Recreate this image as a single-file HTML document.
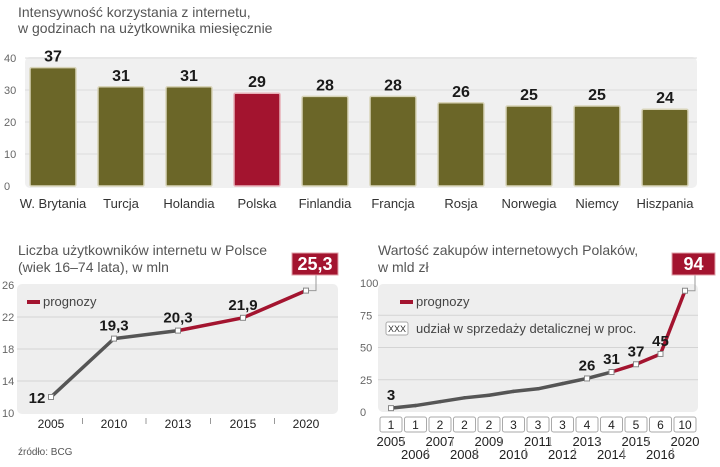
<!DOCTYPE html>
<html><head><meta charset="utf-8"><style>
body{margin:0;background:#fff;width:720px;height:462px;overflow:hidden;font-family:"Liberation Sans",sans-serif}
svg text{font-family:"Liberation Sans",sans-serif}
.v{font-family:"Liberation Sans Narrow","Liberation Sans",sans-serif;font-weight:bold;fill:#1a1a1a}
</style></head><body>
<svg id="s" width="720" height="462">
<text x="18" y="17" font-size="14" fill="#555">Intensywność korzystania z internetu,</text>
<text x="18" y="33" font-size="14" fill="#555">w godzinach na użytkownika miesięcznie</text>
<rect x="25" y="57" width="672" height="131" rx="5" fill="#f0f0f0"/>
<g id="topg"></g>
<text x="18" y="255" font-size="14" fill="#555">Liczba użytkowników internetu w Polsce</text>
<text x="18" y="272" font-size="14" fill="#555">(wiek 16–74 lata), w mln</text>
<rect x="17" y="284" width="321" height="130" rx="5" fill="#eeeeee"/>
<rect x="27" y="300" width="13" height="4" fill="#a3142f"/>
<text x="43" y="306" font-size="13" fill="#444">prognozy</text>
<g id="bl"></g>
<text x="18" y="455" font-size="10" fill="#555">źródło: BCG</text>
<text x="378" y="255" font-size="14" fill="#555">Wartość zakupów internetowych Polaków,</text>
<text x="378" y="272" font-size="14" fill="#555">w mld zł</text>
<rect x="378" y="284" width="320" height="128" rx="5" fill="#eeeeee"/>
<g id="br"></g>
<rect x="400" y="300" width="13" height="4" fill="#a3142f"/>
<text x="416" y="306" font-size="13" fill="#444">prognozy</text>
<rect x="386" y="322" width="22" height="13" rx="2" fill="#fff" stroke="#aaa"/>
<text x="397" y="332" font-size="9" text-anchor="middle" fill="#333">XXX</text>
<text x="416" y="333" font-size="13" fill="#444">udział w sprzedaży detalicznej w proc.</text>
</svg>
<script>
const countries=["W. Brytania","Turcja","Holandia","Polska","Finlandia","Francja","Rosja","Norwegia","Niemcy","Hiszpania"];
const hours=[37,31,31,29,28,28,26,25,25,24];
const topTicks=[0,10,20,30,40];
const usersYears=["2005","2010","2013","2015","2020"];
const usersVals=[12,19.3,20.3,21.9,25.3];
const usersLabels=["12","19,3","20,3","21,9","25,3"];
const usersTicks=[10,14,18,22,26];
const salesYears=["2005","2006","2007","2008","2009","2010","2011","2012","2013","2014","2015","2016","2020"];
const salesVals=[3,5,8,11,13,16,18,22,26,31,37,45,94];
const salesShare=[1,1,2,2,2,3,3,3,4,4,5,6,10];
const salesTicks=[0,25,50,75,100];
const NS="http://www.w3.org/2000/svg";
function el(p,t,a,txt){const e=document.createElementNS(NS,t);for(const k in a)e.setAttribute(k,a[k]);if(txt!==undefined)e.textContent=txt;p.appendChild(e);return e;}
const topG=document.getElementById('topg');
const ty=v=>186-v*3.2, tx=i=>53+i*68;
topTicks.forEach(t=>{
 if(t>0){const g=el(topG,'line',{x1:25,x2:697,y1:ty(t),y2:ty(t),stroke:'#dcdcdc'});}
 const l=el(topG,'text',{x:4,y:ty(t)+4,'font-size':11,fill:'#666'},t);
 
 
});
countries.forEach((c,i)=>{
 const b=el(topG,'rect',{x:tx(i)-23,y:ty(hours[i]),width:46,height:hours[i]*3.2,fill:c==="Polska"?'#a3142f':'#6b6628',stroke:c==="Polska"?'#e8b0b8':'#d8d4b8','stroke-width':1.5,rx:1.5});
 
 
 const v=el(topG,'text',{x:tx(i),y:ty(hours[i])-6,'font-size':16,'text-anchor':'middle',class:'v'},hours[i]);
 
 
 const n=el(topG,'text',{x:tx(i),y:208,'font-size':13,'text-anchor':'middle',fill:'#333'},c);
 
 
});
const bl=document.getElementById('bl');
const uy=v=>413-(v-10)*8, ux=i=>[51,114,178,243,306][i];
usersTicks.forEach(t=>{
 if(t>10&&t<26){const g=el(bl,'line',{x1:17,x2:338,y1:uy(t),y2:uy(t),stroke:'#d4d4d4'});}
 const l=el(bl,'text',{x:2,y:uy(t)+4,'font-size':11,fill:'#666'},t);
 
 
});
for(let i=0;i<usersVals.length-1;i++){
 const s=el(bl,'line',{x1:ux(i),y1:uy(usersVals[i]),x2:ux(i+1),y2:uy(usersVals[i+1]),stroke:i>=2?'#a3142f':'#555','stroke-width':3.5,'stroke-linecap':'round'});
 
 
}
usersVals.forEach((v,i)=>{
 const p=el(bl,'rect',{x:ux(i)-2.5,y:uy(v)-2.5,width:5,height:5,fill:'#fff',stroke:'#888'});
 
 
 const yl=el(bl,'text',{x:ux(i),y:428,'font-size':12,'text-anchor':'middle',fill:'#222'},usersYears[i]);
 
 
 if(i<usersVals.length-1){const tk=el(bl,'line',{x1:(ux(i)+ux(i+1))/2,x2:(ux(i)+ux(i+1))/2,y1:418,y2:424,stroke:'#999'});}
 if(i===usersVals.length-1){
  const ld=el(bl,'polyline',{points:`${ux(i)+3},${uy(v)} ${ux(i)+10},${uy(v)} ${ux(i)+10},275`,fill:'none',stroke:'#999'});
  
  
  const bx=el(bl,'rect',{x:292,y:253,width:46,height:22,fill:'#a3142f',stroke:'#e0a0aa'});
  
  
  const t=el(bl,'text',{x:315,y:270,'font-size':18,'text-anchor':'middle',class:'v',style:'fill:#fff'},usersLabels[i]);
  
  
 } else {
  const off=i===0?[-14,6]:[0,-8];
  const t=el(bl,'text',{x:ux(i)+off[0],y:uy(v)+off[1],'font-size':15,'text-anchor':'middle',class:'v'},usersLabels[i]);
  
  
 }
});
const br=document.getElementById('br');
const sy=v=>412-v*1.29, sx=i=>391+i*24.5;
salesTicks.forEach(t=>{
 if(t>0&&t<100){const g=el(br,'line',{x1:378,x2:698,y1:sy(t),y2:sy(t),stroke:'#d4d4d4'});}
 const l=el(br,'text',{x:360,y:sy(t)+4,'font-size':11,fill:'#666'},t);
 
 
});
for(let i=0;i<salesVals.length-1;i++){
 const s=el(br,'line',{x1:sx(i),y1:sy(salesVals[i]),x2:sx(i+1),y2:sy(salesVals[i+1]),stroke:i>=9?'#a3142f':'#555','stroke-width':3.5,'stroke-linecap':'round'});
 
 
}
salesVals.forEach((v,i)=>{
 const show=i===0||i>=8;
 if(show){const p=el(br,'rect',{x:sx(i)-2.5,y:sy(v)-2.5,width:5,height:5,fill:'#fff',stroke:'#888'});}
 const b=el(br,'rect',{x:sx(i)-11,y:417,width:22,height:15,rx:2,fill:'#fff',stroke:'#aaa'});
 
 
 const st=el(br,'text',{x:sx(i),y:429,'font-size':12,'text-anchor':'middle',fill:'#222'},salesShare[i]);
 
 
 const up=(i%2===0);
 const yl=el(br,'text',{x:sx(i),y:up?446:459,'font-size':13,'text-anchor':'middle',fill:'#222'},salesYears[i]);
 
 
 if(i<salesVals.length-1){const xm=(sx(i)+sx(i+1))/2;const tk=el(br,'line',{x1:xm,x2:xm,y1:up?437:448,y2:up?446:458,stroke:'#999'});}
 if(i===salesVals.length-1){
  const ld=el(br,'polyline',{points:`${sx(i)+3},${sy(v)} ${sx(i)+10},${sy(v)} ${sx(i)+10},275`,fill:'none',stroke:'#999'});
  
  
  const bx=el(br,'rect',{x:672,y:253,width:43,height:22,fill:'#a3142f',stroke:'#e0a0aa'});
  
  
  const t=el(br,'text',{x:693.5,y:270,'font-size':18,'text-anchor':'middle',class:'v',style:'fill:#fff'},v);
  
  
 } else if(show){
  const t=el(br,'text',{x:sx(i),y:sy(v)-8,'font-size':15,'text-anchor':'middle',class:'v'},v);
  
  
 }
});
</script>
</body></html>
